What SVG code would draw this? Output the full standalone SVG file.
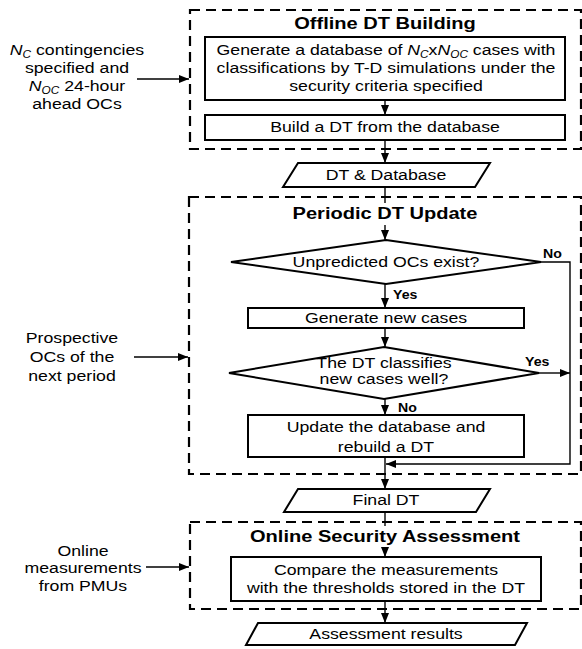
<svg xmlns="http://www.w3.org/2000/svg" width="582" height="649" viewBox="0 0 582 649">
<defs>
<marker id="ah" markerWidth="10" markerHeight="8" refX="10" refY="4" orient="auto" markerUnits="userSpaceOnUse">
<path d="M0,0 L10,4 L0,8 Z" fill="#000"/>
</marker>
<style>
text{font-family:"Liberation Sans",Arial,sans-serif;fill:#000}
.t{font-size:15px;text-anchor:middle}
.h{font-size:17px;font-weight:bold;text-anchor:middle}
.l{font-size:12px;font-weight:bold}
.dash{fill:none;stroke:#000;stroke-width:2.2;stroke-dasharray:10 6}
.box{fill:#fff;stroke:#000;stroke-width:2}
.ln{fill:none;stroke:#000;stroke-width:1.4}
.i{font-style:italic}
</style>
</defs>
<rect width="582" height="649" fill="#fff"/>

<g id="offline-frame"><rect class="dash" x="190" y="10" width="391" height="139"/><text class="h" transform="translate(385 0) scale(1.18 1)" x="0" y="29">Offline DT Building</text></g>
<g id="periodic-frame"><rect class="dash" x="189" y="197" width="392" height="277"/><text class="h" transform="translate(385 0) scale(1.18 1)" x="0" y="219">Periodic DT Update</text></g>
<g id="online-frame"><rect class="dash" x="190" y="522" width="391" height="87"/><text class="h" transform="translate(385 0) scale(1.18 1)" x="0" y="542">Online Security Assessment</text></g>

<g id="connectors">
<line class="ln" x1="137" y1="79" x2="189" y2="79" marker-end="url(#ah)"/>
<line class="ln" x1="134" y1="357" x2="188" y2="357" marker-end="url(#ah)"/>
<line class="ln" x1="146" y1="567" x2="189" y2="567" marker-end="url(#ah)"/>
<line class="ln" x1="385" y1="100" x2="385" y2="115" marker-end="url(#ah)"/>
<line class="ln" x1="385" y1="140" x2="385" y2="163" marker-end="url(#ah)"/>
<line class="ln" x1="385" y1="187" x2="385" y2="203"/>
<line class="ln" x1="385" y1="225" x2="385" y2="240" marker-end="url(#ah)"/>
<line class="ln" x1="385" y1="284" x2="385" y2="308" marker-end="url(#ah)"/>
<line class="ln" x1="385" y1="328" x2="385" y2="347" marker-end="url(#ah)"/>
<line class="ln" x1="385" y1="399" x2="385" y2="415" marker-end="url(#ah)"/>
<line class="ln" x1="385" y1="457" x2="385" y2="489" marker-end="url(#ah)"/>
<polyline class="ln" points="541,262 570,262 570,464 386,464" marker-end="url(#ah)"/>
<line class="ln" x1="539" y1="373" x2="570" y2="373" marker-end="url(#ah)"/>
<line class="ln" x1="385" y1="512" x2="385" y2="526"/>
<line class="ln" x1="385" y1="548" x2="385" y2="557" marker-end="url(#ah)"/>
<line class="ln" x1="385" y1="601" x2="385" y2="623" marker-end="url(#ah)"/>
<text class="l" transform="translate(393 299) scale(1.18 1)">Yes</text>
<text class="l" transform="translate(543 258) scale(1.18 1)">No</text>
<text class="l" transform="translate(525 366) scale(1.18 1)">Yes</text>
<text class="l" transform="translate(398 412) scale(1.18 1)">No</text>
</g>

<g id="in-offline"><text class="t" transform="translate(77 0) scale(1.18 1)"><tspan x="0" y="55"><tspan class="i">N</tspan><tspan class="i" font-size="10" dy="3">C</tspan><tspan dy="-3"> contingencies</tspan></tspan><tspan x="0" y="73">specified and</tspan><tspan x="0" y="91"><tspan class="i">N</tspan><tspan class="i" font-size="10" dy="3">OC</tspan><tspan dy="-3"> 24-hour</tspan></tspan><tspan x="0" y="109">ahead OCs</tspan></text></g>
<g id="in-periodic"><text class="t" transform="translate(72 0) scale(1.18 1)"><tspan x="0" y="343">Prospective</tspan><tspan x="0" y="362">OCs of the</tspan><tspan x="0" y="381">next period</tspan></text></g>
<g id="in-online"><text class="t" transform="translate(83 0) scale(1.18 1)"><tspan x="0" y="556">Online</tspan><tspan x="0" y="573">measurements</tspan><tspan x="0" y="591">from PMUs</tspan></text></g>

<g id="gen-db"><rect class="box" x="205" y="37" width="360" height="63"/><text class="t" transform="translate(386 0) scale(1.18 1)"><tspan x="0" y="55">Generate a database of <tspan class="i">N</tspan><tspan class="i" font-size="10" dy="3">C</tspan><tspan dy="-3">x</tspan><tspan class="i">N</tspan><tspan class="i" font-size="10" dy="3">OC</tspan><tspan dy="-3"> cases with</tspan></tspan><tspan x="0" y="73">classifications by T-D simulations under the</tspan><tspan x="0" y="91">security criteria specified</tspan></text></g>
<g id="build-dt"><rect class="box" x="205" y="115" width="360" height="25"/><text class="t" transform="translate(385 0) scale(1.18 1)" x="0" y="132">Build a DT from the database</text></g>
<g id="dt-database"><polygon class="box" points="298,163 490,163 475,187 283,187"/><text class="t" transform="translate(386 0) scale(1.18 1)" x="0" y="180">DT &amp; Database</text></g>
<g id="unpredicted"><polygon class="box" points="386,240 541,262 386,284 231,262"/><text class="t" transform="translate(386 0) scale(1.18 1)" x="0" y="267">Unpredicted OCs exist?</text></g>
<g id="gen-new"><rect class="box" x="248" y="308" width="276" height="20"/><text class="t" transform="translate(386 0) scale(1.18 1)" x="0" y="323">Generate new cases</text></g>
<g id="classifies"><polygon class="box" points="384,347 539,373 384,399 229,373"/><text class="t" transform="translate(384 0) scale(1.18 1)"><tspan x="0" y="368">The DT classifies</tspan><tspan x="0" y="384">new cases well?</tspan></text></g>
<g id="update"><rect class="box" x="248" y="415" width="276" height="42"/><text class="t" transform="translate(386 0) scale(1.18 1)"><tspan x="0" y="432">Update the database and</tspan><tspan x="0" y="452">rebuild a DT</tspan></text></g>
<g id="final-dt"><polygon class="box" points="298,489 490,489 476,512 284,512"/><text class="t" transform="translate(386 0) scale(1.18 1)" x="0" y="505">Final DT</text></g>
<g id="compare"><rect class="box" x="231" y="557" width="310" height="44"/><text class="t" transform="translate(386 0) scale(1.18 1)"><tspan x="0" y="575">Compare the measurements</tspan><tspan x="0" y="593">with the thresholds stored in the DT</tspan></text></g>
<g id="results"><polygon class="box" points="258,623 527,623 515,645 246,645"/><text class="t" transform="translate(386 0) scale(1.18 1)" x="0" y="639">Assessment results</text></g>
</svg>
